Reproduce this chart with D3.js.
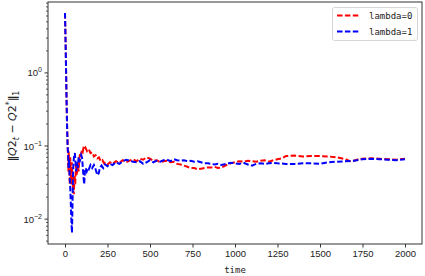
<!DOCTYPE html>
<html><head><meta charset="utf-8">
<script src="https://cdn.jsdelivr.net/npm/d3@7"></script>
<style>body{margin:0;background:#fff}svg{display:block}</style>
</head><body>
<svg id="c" width="425" height="276"></svg>
<script>
// ---- data ----
const seriesNames = ["lambda=0", "lambda=1"];
const seriesColors = ["#ff0000", "#0000ff"];
const xTicks = [0, 250, 500, 750, 1000, 1250, 1500, 1750, 2000];
const yTickValues = [1, 0.1, 0.01];
const yTickExps = ["0", "\u22121", "\u22122"];
const tRed = [0,3,6,9,12,15,18,20,22,25,28,31,34,37,40,44,48,52,56,60,65,70,75,80,85,90,95,100,105,110,115,120,130,140,150,160,170,180,190,200,210,220,230,240,250,265,280,300,320,340,360,380,400,420,440,460,480,500,520,540,560,580,600,620,640,660,680,700,720,740,760,780,800,820,840,860,880,900,920,950,975,1000,1025,1050,1075,1100,1125,1150,1175,1200,1225,1250,1275,1300,1350,1400,1450,1500,1550,1600,1650,1675,1700,1725,1750,1800,1850,1900,1950,2000];
const vRed = [6.6,3.0,1.2,0.45,0.2,0.12,0.07,0.045,0.085,0.05,0.03,0.07,0.04,0.03,0.06,0.035,0.025,0.022,0.04,0.03,0.055,0.04,0.06,0.045,0.07,0.08,0.075,0.09,0.085,0.098,0.092,0.095,0.085,0.09,0.08,0.082,0.072,0.075,0.068,0.07,0.062,0.064,0.058,0.06,0.056,0.06,0.057,0.062,0.059,0.064,0.06,0.063,0.066,0.062,0.067,0.065,0.07,0.067,0.063,0.064,0.06,0.062,0.063,0.06,0.061,0.057,0.056,0.054,0.052,0.05,0.05,0.048,0.049,0.05,0.051,0.051,0.052,0.05,0.051,0.055,0.058,0.06,0.062,0.061,0.063,0.062,0.061,0.063,0.064,0.061,0.064,0.066,0.068,0.073,0.074,0.072,0.073,0.073,0.072,0.07,0.066,0.062,0.063,0.066,0.067,0.068,0.067,0.066,0.065,0.067];
const tBlue = [0,3,6,9,12,15,18,21,24,27,30,33,36,39,41,44,47,50,54,58,62,66,70,75,80,85,90,95,100,105,110,113,117,122,128,134,140,150,160,170,180,190,198,205,215,225,235,250,265,280,300,320,340,360,380,400,420,440,460,480,500,520,540,560,580,600,620,640,660,680,700,720,740,760,780,800,820,840,860,880,900,920,950,975,1000,1025,1050,1075,1100,1125,1150,1175,1200,1225,1250,1300,1350,1400,1450,1500,1550,1600,1650,1700,1750,1800,1850,1900,1950,2000];
const vBlue = [6.6,3.0,1.2,0.45,0.2,0.1,0.08,0.05,0.065,0.04,0.03,0.02,0.012,0.008,0.0065,0.015,0.04,0.06,0.075,0.08,0.06,0.045,0.06,0.05,0.07,0.06,0.065,0.075,0.07,0.05,0.035,0.03,0.045,0.05,0.045,0.05,0.048,0.055,0.05,0.055,0.048,0.04,0.042,0.05,0.054,0.05,0.056,0.053,0.057,0.055,0.06,0.057,0.062,0.065,0.063,0.061,0.06,0.062,0.057,0.06,0.064,0.06,0.063,0.061,0.064,0.065,0.062,0.066,0.064,0.063,0.064,0.062,0.063,0.061,0.062,0.06,0.058,0.058,0.057,0.056,0.057,0.055,0.057,0.059,0.058,0.057,0.059,0.056,0.054,0.057,0.058,0.057,0.058,0.059,0.058,0.057,0.057,0.058,0.058,0.057,0.06,0.061,0.062,0.063,0.066,0.067,0.066,0.065,0.064,0.066];
const xLabel = "time";

// ---- layout ----
const svg = d3.select("#c");
const L = 48, R = 422, T = 2, B = 244;
const x = d3.scaleLinear().domain([-100, 2100]).range([L, R]);
const y = d3.scaleLog().domain([Math.pow(10, -2.34), Math.pow(10, 0.97)]).range([B, T]);

// lines
const line = d3.line().x(d => x(d[0])).y(d => y(d[1]));
const datasets = [d3.zip(tRed, vRed), d3.zip(tBlue, vBlue)];
datasets.forEach((ds, i) => {
  svg.append("path").datum(ds).attr("d", line)
    .attr("fill", "none").attr("stroke", seriesColors[i])
    .attr("stroke-width", 2).attr("stroke-dasharray", "5.5,2.4");
});

// frame
svg.append("rect").attr("x", L).attr("y", T).attr("width", R - L).attr("height", B - T)
  .attr("fill", "none").attr("stroke", "#333").attr("stroke-width", 1);

// x axis
const xa = svg.append("g").attr("transform", `translate(0,${B})`)
  .call(d3.axisBottom(x).tickValues(xTicks).tickSize(3.5).tickPadding(3).tickFormat(d3.format("d")));
xa.select(".domain").remove();
xa.selectAll("line").attr("stroke", "#333");
xa.selectAll("text").attr("font-family", "Liberation Sans, Arial, sans-serif").attr("font-size", 9.5).attr("fill", "#222");

// y axis minor ticks
const minor = [];
[-3, -2, -1, 0].forEach(e => { for (let m = 2; m <= 9; m++) { const v = m * Math.pow(10, e); if (v >= y.domain()[0] && v <= y.domain()[1]) minor.push(v); } });
svg.append("g").selectAll("line").data(minor).join("line")
  .attr("x1", L - 2).attr("x2", L).attr("y1", d => y(d)).attr("y2", d => y(d))
  .attr("stroke", "#333").attr("stroke-width", 0.8);
svg.append("g").selectAll("line").data(yTickValues).join("line")
  .attr("x1", L - 3.5).attr("x2", L).attr("y1", d => y(d)).attr("y2", d => y(d))
  .attr("stroke", "#333").attr("stroke-width", 1);
const yl = svg.append("g").selectAll("text").data(yTickValues).join("text")
  .attr("x", L - 6).attr("y", d => y(d) + 3.5).attr("text-anchor", "end")
  .attr("font-family", "Liberation Sans, Arial, sans-serif").attr("font-size", 9.5).attr("fill", "#222");
yl.append("tspan").text("10");
yl.append("tspan").attr("dy", -4).attr("font-size", 7).text((d, i) => yTickExps[i]);

// x label
svg.append("text").attr("x", (L + R) / 2).attr("y", 273).attr("text-anchor", "middle")
  .attr("font-family", "DejaVu Sans Mono, monospace").attr("font-size", 9).attr("fill", "#222").text(xLabel);

// y label
const ylab = svg.append("text").attr("transform", `translate(16,${(T + B) / 2 + 3}) rotate(-90)`)
  .attr("text-anchor", "middle").attr("font-family", "DejaVu Sans, sans-serif").attr("font-size", 11).attr("fill", "#222");
ylab.append("tspan").attr("font-weight", "bold").text("\u2016");
ylab.append("tspan").attr("font-style", "italic").text("Q");
ylab.append("tspan").text("2");
ylab.append("tspan").attr("font-style", "italic").attr("font-size", 8).attr("dy", 2.5).text("t");
ylab.append("tspan").attr("dy", -2.5).text(" \u2212 ");
ylab.append("tspan").attr("font-style", "italic").text("Q");
ylab.append("tspan").text("2");
ylab.append("tspan").attr("font-size", 8).attr("dy", -4).text("*");
ylab.append("tspan").attr("dy", 4).attr("font-weight", "bold").text("\u2016");
ylab.append("tspan").attr("font-size", 8).attr("dy", 2.5).text("1");

// legend
const lg = svg.append("g");
lg.append("rect").attr("x", 332.5).attr("y", 7.5).attr("width", 85).attr("height", 33).attr("rx", 2)
  .attr("fill", "#fff").attr("fill-opacity", 0.8).attr("stroke", "#d6d6d6").attr("stroke-width", 1);
seriesNames.forEach((n, i) => {
  const yy = 15.5 + i * 16;
  lg.append("line").attr("x1", 337).attr("x2", 360).attr("y1", yy).attr("y2", yy)
    .attr("stroke", seriesColors[i]).attr("stroke-width", 2).attr("stroke-dasharray", "5.5,2.4");
  lg.append("text").attr("x", 369).attr("y", yy + 3.5)
    .attr("font-family", "DejaVu Sans Mono, monospace").attr("font-size", 9).attr("fill", "#222").text(n);
});
</script>
</body></html>
